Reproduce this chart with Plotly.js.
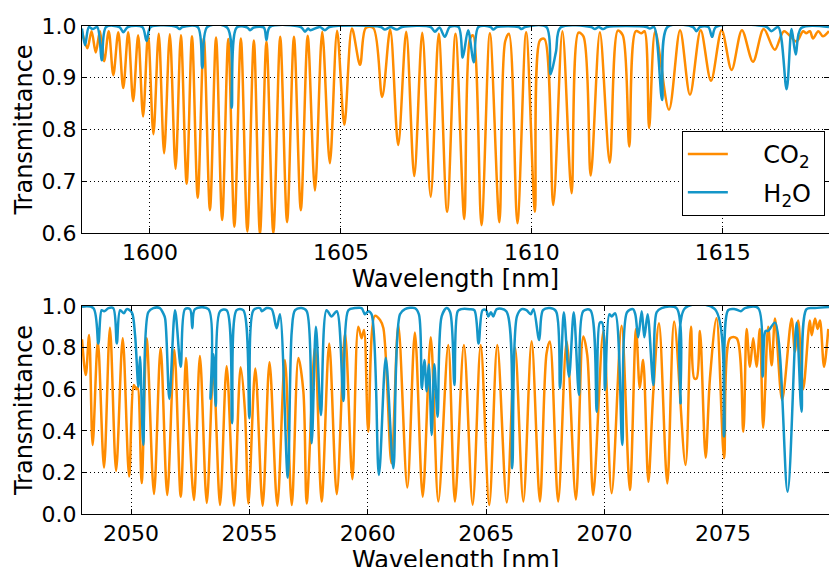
<!DOCTYPE html>
<html>
<head>
<meta charset="utf-8">
<script src="https://cdn.plot.ly/plotly-3.0.1.min.js"></script>
<style>html,body{margin:0;padding:0;background:#fff;}#chart{width:829px;height:567px;}</style>
</head>
<body>
<div id="chart"></div>
<script>
// ---- Top panel (1598-1618 nm) ----
var co2TopX = [1598.22,1598.36,1598.47,1598.58,1598.69,1598.80,1598.92,1599.04,1599.17,1599.30,1599.43,1599.56,1599.69,1599.82,1599.95,1600.09,1600.23,1600.37,1600.52,1600.67,1600.81,1600.96,1601.10,1601.25,1601.41,1601.57,1601.73,1601.89,1602.05,1602.21,1602.38,1602.55,1602.72,1602.88,1603.05,1603.23,1603.41,1603.59,1603.77,1603.95,1604.13,1604.32,1604.51,1604.71,1604.90,1605.09,1605.29,1605.50,1605.65,1605.85,1606.08,1606.29,1606.50,1606.71,1606.92,1607.13,1607.35,1607.56,1607.78,1608.00,1608.23,1608.38,1608.46,1608.68,1608.90,1609.15,1609.30,1609.40,1609.62,1609.85,1610.08,1610.21,1610.33,1610.56,1610.80,1611.04,1611.22,1611.35,1611.54,1611.78,1612.04,1612.25,1612.38,1612.55,1612.72,1612.87,1612.95,1613.07,1613.23,1613.59,1613.88,1614.14,1614.42,1614.69,1614.97,1615.23,1615.50,1615.79,1616.07,1616.36,1616.60,1616.93,1617.10,1617.18,1617.28,1617.36,1617.50,1617.62,1617.78];
var co2TopY = [0.990,0.957,0.990,0.949,0.990,0.932,0.990,0.905,0.988,0.880,0.988,0.855,0.982,0.825,0.985,0.791,0.985,0.754,0.984,0.724,0.982,0.695,0.980,0.668,0.977,0.644,0.978,0.625,0.975,0.612,0.976,0.603,0.972,0.598,0.970,0.600,0.979,0.621,0.979,0.644,0.981,0.682,0.989,0.735,0.991,0.809,0.995,0.925,0.996,0.996,0.863,0.993,0.770,0.989,0.710,0.987,0.670,0.985,0.641,0.985,0.627,0.975,0.982,0.615,0.986,0.621,0.970,0.985,0.619,0.988,0.641,0.972,0.975,0.654,0.990,0.677,0.987,0.980,0.711,0.988,0.736,0.991,0.982,0.767,0.990,0.986,0.990,0.803,0.990,0.838,0.992,0.867,0.992,0.894,0.992,0.915,0.992,0.931,0.994,0.954,0.990,0.970,0.990,0.986,0.990,0.976,0.990,0.980,0.990];
var h2oTopX = [1598.22,1598.30,1598.40,1598.50,1598.62,1598.74,1598.85,1599.20,1599.30,1599.42,1599.80,1599.91,1600.02,1600.70,1600.77,1600.85,1601.25,1601.37,1601.50,1602.02,1602.14,1602.27,1602.55,1602.62,1602.72,1602.98,1603.05,1603.14,1603.95,1604.06,1604.14,1604.20,1604.45,1604.58,1604.70,1606.05,1606.15,1606.30,1606.46,1606.60,1607.35,1607.46,1607.58,1607.72,1607.85,1608.08,1608.19,1608.33,1608.48,1608.60,1608.92,1608.99,1609.08,1609.65,1609.73,1609.82,1610.38,1610.49,1610.63,1610.75,1611.55,1611.65,1611.75,1611.87,1611.97,1613.00,1613.09,1613.20,1613.41,1613.55,1614.22,1614.31,1614.40,1614.62,1614.72,1614.82,1616.15,1616.27,1616.45,1616.67,1616.80,1616.91,1617.05,1617.78];
var h2oTopY = [0.995,0.963,0.998,0.994,0.998,0.934,0.998,0.998,0.988,0.998,0.998,0.971,0.998,0.998,0.994,0.998,0.998,0.919,0.998,0.997,0.842,0.997,0.997,0.992,0.997,0.997,0.973,0.998,0.998,0.989,0.995,0.992,0.998,0.992,0.998,0.998,0.993,0.998,0.993,0.998,0.998,0.989,0.997,0.979,0.998,0.998,0.939,0.992,0.930,0.998,0.998,0.993,0.998,0.998,0.994,0.998,0.998,0.907,0.950,0.997,0.998,0.994,0.998,0.994,0.998,0.998,0.995,0.998,0.857,0.998,0.998,0.990,0.998,0.998,0.979,0.998,0.998,0.990,0.998,0.878,0.994,0.945,0.996,0.998];

// ---- Bottom panel (2048-2079.5 nm) ----
var co2BotX = [2047.93,2048.09,2048.23,2048.38,2048.60,2048.86,2049.11,2049.37,2049.65,2049.92,2050.12,2050.22,2050.28,2050.45,2050.66,2050.97,2051.25,2051.53,2051.83,2052.10,2052.32,2052.43,2052.66,2052.91,2053.20,2053.48,2053.76,2054.04,2054.35,2054.63,2054.81,2054.96,2055.25,2055.56,2055.85,2056.18,2056.50,2056.79,2057.07,2057.28,2057.42,2057.77,2058.05,2058.37,2058.69,2059.04,2059.35,2059.60,2059.74,2059.84,2060.02,2060.30,2060.52,2060.66,2061.00,2061.29,2061.67,2061.99,2062.32,2062.66,2062.98,2063.40,2063.68,2064.06,2064.43,2064.77,2065.13,2065.47,2065.87,2066.22,2066.57,2066.92,2067.27,2067.55,2067.69,2068.04,2068.40,2068.79,2069.10,2069.27,2069.52,2069.95,2070.30,2070.72,2071.07,2071.33,2071.49,2071.63,2071.85,2072.06,2072.30,2072.65,2072.94,2073.42,2073.65,2073.79,2073.89,2074.03,2074.27,2074.45,2074.73,2075.05,2075.30,2075.58,2075.86,2076.00,2076.14,2076.28,2076.42,2076.56,2076.70,2076.91,2077.06,2077.20,2077.50,2077.90,2078.04,2078.18,2078.39,2078.67,2078.75,2078.89,2079.00,2079.10,2079.27,2079.45];
var co2BotY = [0.84,0.668,0.861,0.332,0.83,0.223,0.896,0.207,0.845,0.180,0.62,0.60,0.61,0.149,0.845,0.096,0.798,0.091,0.79,0.083,0.75,0.50,0.067,0.76,0.053,0.692,0.043,0.71,0.040,0.705,0.50,0.05,0.70,0.04,0.73,0.04,0.74,0.043,0.75,0.588,0.051,0.804,0.06,0.82,0.095,0.869,0.167,0.90,0.845,0.885,0.396,0.953,0.933,0.893,0.244,0.909,0.127,0.873,0.083,0.85,0.06,0.813,0.06,0.813,0.045,0.813,0.043,0.813,0.055,0.80,0.06,0.83,0.06,0.772,0.83,0.06,0.83,0.07,0.853,0.764,0.091,0.88,0.10,0.905,0.115,0.89,0.606,0.74,0.155,0.588,0.917,0.147,0.925,0.236,0.90,0.652,0.652,0.88,0.271,0.65,0.941,0.268,0.845,0.845,0.396,0.89,0.708,0.845,0.708,0.89,0.415,0.90,0.715,0.94,0.548,0.94,0.78,0.93,0.60,0.93,0.86,0.94,0.89,0.93,0.708,0.89];
var h2oBotX = [2047.93,2048.41,2048.62,2048.76,2048.86,2048.94,2049.05,2049.25,2049.40,2049.54,2049.70,2049.82,2050.03,2050.17,2050.31,2050.38,2050.52,2050.73,2050.94,2051.22,2051.36,2051.44,2051.62,2051.86,2052.10,2052.28,2052.49,2052.59,2052.70,2053.27,2053.36,2053.48,2053.58,2053.76,2054.04,2054.27,2054.46,2054.74,2055.00,2055.17,2055.45,2055.52,2055.73,2055.94,2056.15,2056.29,2056.62,2056.79,2056.93,2057.21,2057.42,2057.63,2057.81,2058.02,2058.26,2058.47,2058.69,2058.97,2059.18,2059.46,2059.74,2059.88,2060.02,2060.16,2060.47,2060.76,2061.08,2061.36,2061.57,2061.99,2062.16,2062.28,2062.39,2062.49,2062.58,2062.70,2062.81,2062.95,2063.12,2063.33,2063.48,2063.66,2063.80,2063.95,2064.30,2064.50,2064.68,2064.85,2065.00,2065.09,2065.20,2065.30,2065.45,2065.85,2066.10,2066.30,2066.50,2066.70,2066.88,2067.00,2067.24,2067.40,2067.70,2067.95,2068.12,2068.28,2068.50,2068.70,2068.92,2069.10,2069.40,2069.67,2069.80,2069.90,2070.02,2070.20,2070.30,2070.45,2070.75,2070.95,2071.20,2071.30,2071.42,2071.57,2071.68,2071.82,2072.06,2072.20,2072.41,2073.04,2073.21,2073.40,2074.66,2075.05,2075.22,2075.51,2075.76,2075.93,2076.49,2076.68,2076.80,2076.91,2077.20,2077.73,2078.11,2078.32,2078.53,2078.89,2079.48];
var h2oBotY = [0.997,0.99,0.82,0.98,0.975,0.98,0.99,0.99,0.82,0.98,0.965,0.985,0.97,0.861,0.612,0.756,0.332,0.97,0.99,0.99,0.965,0.94,0.553,0.98,0.708,0.985,0.985,0.893,0.985,0.985,0.553,0.768,0.519,0.975,0.98,0.436,0.98,0.98,0.46,0.98,0.99,0.975,0.99,0.985,0.893,0.96,0.175,0.88,0.98,0.99,0.975,0.34,0.90,0.476,0.98,0.95,0.975,0.543,0.98,0.99,0.99,0.96,0.975,0.96,0.188,0.75,0.22,0.96,0.985,0.99,0.96,0.604,0.74,0.59,0.72,0.38,0.72,0.468,0.95,0.99,0.97,0.62,0.975,0.985,0.985,0.98,0.82,0.98,0.98,0.95,0.97,0.95,0.985,0.975,0.22,0.95,0.985,0.98,0.96,0.985,0.837,0.98,0.99,0.975,0.604,0.97,0.66,0.97,0.572,0.975,0.98,0.492,0.92,0.92,0.596,0.96,0.95,0.965,0.332,0.97,0.985,0.96,0.85,0.975,0.85,0.96,0.62,0.97,0.99,0.99,0.532,0.99,0.985,0.372,0.98,0.985,0.975,0.99,0.99,0.66,0.88,0.88,0.92,0.107,0.92,0.492,0.985,0.99,0.995];

var orange = '#ff8c00';
var blue = '#1496c8';
var font = 'DejaVu Sans, sans-serif';
var xTitle = 'Wavelength [nm]';
var yTitle = 'Transmittance';

function tr(x, y, color, name, xa, ya, show) {
  return {x: x, y: y, type: 'scatter', mode: 'lines', name: name, xaxis: xa, yaxis: ya,
    showlegend: show, legendgroup: name,
    line: {color: color, width: 2.5, shape: 'spline', smoothing: 0.9}, hoverinfo: 'skip'};
}

var data = [
  tr(co2TopX, co2TopY, orange, '\u00a0\u00a0\u00a0\u00a0CO<sub>2</sub>\u00a0', 'x', 'y', true),
  tr(h2oTopX, h2oTopY, blue, '\u00a0\u00a0\u00a0\u00a0H<sub>2</sub>O\u00a0', 'x', 'y', true),
  tr(co2BotX, co2BotY, orange, 'co2b', 'x2', 'y2', false),
  tr(h2oBotX, h2oBotY, blue, 'h2ob', 'x2', 'y2', false)
];

function xax(range, anchor, withTitle) {
  var a = {range: range, anchor: anchor, domain: [0, 1], dtick: 5, tick0: 0,
    ticks: 'inside', ticklen: 5, tickcolor: 'black', mirror: 'ticks',
    showline: true, linecolor: 'black', linewidth: 1,
    showgrid: true, gridcolor: 'black', griddash: '1px,3px', gridwidth: 1,
    zeroline: false, tickfont: {family: font, size: 22, color: 'black'}};
  if (withTitle) a.title = {text: xTitle, font: {family: font, size: 24, color: 'black'}, standoff: 4};
  return a;
}
function yax(range, anchor, domain, dtick) {
  return {range: range, anchor: anchor, domain: domain, dtick: dtick, tick0: 0, tickformat: '.1f',
    ticks: 'inside', ticklen: 5, tickcolor: 'black', mirror: 'ticks',
    showline: true, linecolor: 'black', linewidth: 1,
    showgrid: true, gridcolor: 'black', griddash: '1px,3px', gridwidth: 1,
    zeroline: false, tickfont: {family: font, size: 22, color: 'black'},
    title: {text: yTitle, font: {family: font, size: 24, color: 'black'}, standoff: 2}};
}

var layout = {
  width: 829, height: 567,
  margin: {l: 82, r: 0, t: 26, b: 53},
  paper_bgcolor: 'white', plot_bgcolor: 'white',
  showlegend: true,
  xaxis: xax([1598.22, 1617.78], 'y', true),
  yaxis: yax([0.6, 1.0], 'x', [0.5758, 1], 0.1),
  xaxis2: xax([2047.93, 2079.48], 'y2', false),
  yaxis2: yax([0.0, 1.0], 'x2', [0, 0.4262], 0.2),
  annotations: [{text: xTitle, xref: 'paper', yref: 'paper', x: 0.5, y: -0.062,
    xanchor: 'center', yanchor: 'top', showarrow: false,
    font: {family: font, size: 24, color: 'black'}}],
  legend: {x: 0.803, y: 0.785, xanchor: 'left', yanchor: 'top',
    bgcolor: 'white', bordercolor: 'black', borderwidth: 1,
    font: {family: font, size: 24, color: 'black'}, tracegroupgap: 4, itemwidth: 40}
};

Plotly.newPlot('chart', data, layout, {displayModeBar: false, staticPlot: true});
</script>
</body>
</html>
